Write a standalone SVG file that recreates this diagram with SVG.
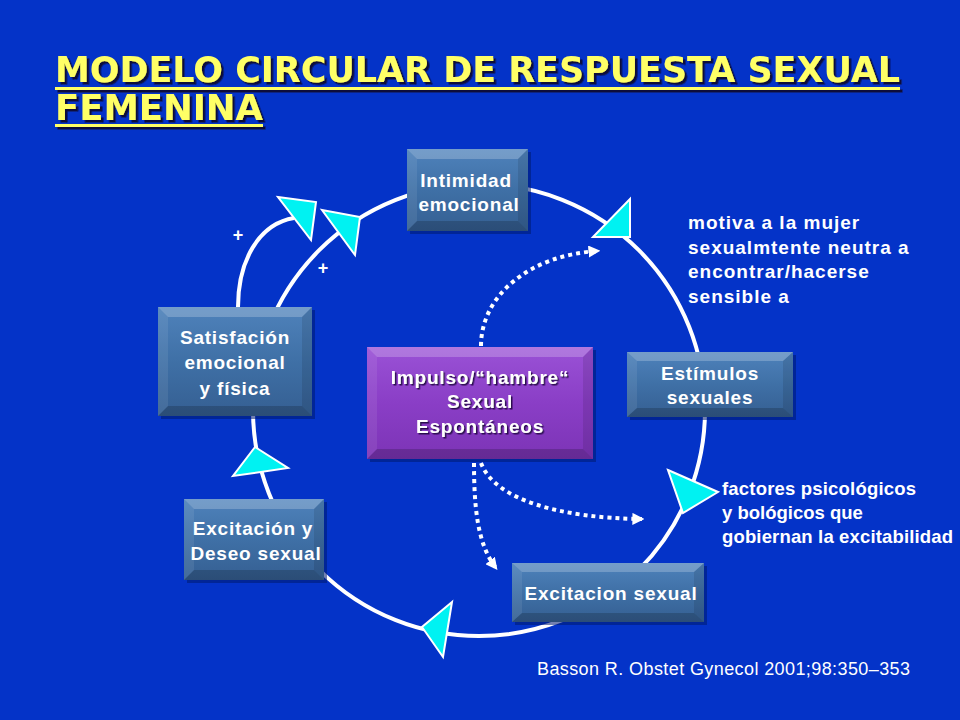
<svg xmlns="http://www.w3.org/2000/svg" width="960" height="720" viewBox="0 0 960 720">
<defs>
<linearGradient id="gBlue" x1="0" y1="0" x2="0" y2="1">
<stop offset="0" stop-color="#4f82bb"/>
<stop offset="0.5" stop-color="#3f70a6"/>
<stop offset="1" stop-color="#355f92"/>
</linearGradient>
<linearGradient id="gPurple" x1="0" y1="0" x2="0" y2="1">
<stop offset="0" stop-color="#9a52d6"/>
<stop offset="0.5" stop-color="#8a3ec6"/>
<stop offset="1" stop-color="#7c34b6"/>
</linearGradient>
<filter id="tsh" x="-5%" y="-20%" width="110%" height="150%">
<feDropShadow dx="2.5" dy="2.5" stdDeviation="0.4" flood-color="#10103a" flood-opacity="1"/>
</filter>
<filter id="psh" x="-5%" y="-20%" width="110%" height="150%">
<feDropShadow dx="1.5" dy="1.5" stdDeviation="0.5" flood-color="#2a0a50" flood-opacity="1"/>
</filter>
<marker id="ah" viewBox="0 0 10 10" refX="8" refY="5" markerWidth="3" markerHeight="3" orient="auto" markerUnits="strokeWidth">
<path d="M0,0 L10,5 L0,10 Z" fill="#ffffff"/>
</marker>
</defs>
<style>
.bg{fill:#0433c8}
.ring{fill:none;stroke:#ffffff;stroke-width:4}
.tri{fill:#00f2f2;stroke:#ffffff;stroke-width:2;stroke-linejoin:miter}
.dot{fill:none;stroke:#ffffff;stroke-width:4;stroke-dasharray:4 4}
.sh{fill:#001a70;opacity:0.55}
.bx{fill:url(#gBlue)}
.px{fill:url(#gPurple)}
.bvT{fill:#ffffff;opacity:0.22}
.bvB{fill:#000000;opacity:0.18}
.bvL{fill:#ffffff;opacity:0.08}
.bvR{fill:#000000;opacity:0.1}
.lbl{font-family:"Liberation Sans",Arial,sans-serif;font-weight:bold;font-size:19px;fill:#ffffff;text-anchor:middle;letter-spacing:0.8px}
.note{font-family:"Liberation Sans",Arial,sans-serif;font-weight:bold;font-size:19px;fill:#ffffff;letter-spacing:1px}
.note2{font-family:"Liberation Sans",Arial,sans-serif;font-weight:bold;font-size:18.5px;fill:#ffffff}
.plus{font-family:"Liberation Sans",Arial,sans-serif;font-weight:bold;font-size:18px;fill:#ffffff;text-anchor:middle}
.cite{font-family:"Liberation Sans",Arial,sans-serif;font-size:18px;fill:#ffffff}
.ttl{font-family:"DejaVu Sans",Verdana,sans-serif;font-weight:bold;font-size:35px;fill:#ffff66}
</style>
<rect class="bg" x="0" y="0" width="960" height="720"/>

<g id="title" filter="url(#tsh)">
<text class="ttl" x="55" y="82" textLength="845" lengthAdjust="spacingAndGlyphs">MODELO CIRCULAR DE RESPUESTA SEXUAL</text>
<rect x="55" y="87" width="845" height="3" fill="#ffff66"/>
<text class="ttl" x="55" y="120" textLength="208" lengthAdjust="spacingAndGlyphs">FEMENINA</text>
<rect x="55" y="124" width="208" height="3" fill="#ffff66"/>
</g>

<g id="connectors">
<circle class="ring" cx="479" cy="410" r="226"/>
<path class="ring" d="M238,307 C238,262 258,224 294,218"/>
<polygon class="tri" points="278,197 316,202 311,240"/>
<polygon class="tri" points="322,210 360,217 355,255"/>
<polygon class="tri" points="593,237 630,199 630,237"/>
<polygon class="tri" points="255,447 233,476 288,468"/>
<polygon class="tri" points="668,470 718,492 683,513"/>
<polygon class="tri" points="452,602 422,627 443,657"/>
<path class="dot" d="M481,346 C481,295 530,255 598,251" marker-end="url(#ah)"/>
<path class="dot" d="M481,463 C495,500 560,518 642,519" marker-end="url(#ah)"/>
<path class="dot" d="M474,463 C474,510 478,545 496,568" marker-end="url(#ah)"/>
</g>

<g id="intimidad">
<rect class="sh" x="410" y="152" width="121" height="82"/>
<rect class="bx" x="407" y="149" width="121" height="82"/>
<polygon class="bvT" points="407,149 528,149 518,159 417,159"/>
<polygon class="bvB" points="407,231 528,231 518,221 417,221"/>
<polygon class="bvL" points="407,149 417,159 417,221 407,231"/>
<polygon class="bvR" points="528,149 518,159 518,221 528,231"/>
<text class="lbl" x="466" y="187">Intimidad</text>
<text class="lbl" x="469" y="211">emocional</text>
</g>

<g id="satisfacion">
<rect class="sh" x="161" y="310" width="154" height="109"/>
<rect class="bx" x="158" y="307" width="154" height="109"/>
<polygon class="bvT" points="158,307 312,307 302,317 168,317"/>
<polygon class="bvB" points="158,416 312,416 302,406 168,406"/>
<polygon class="bvL" points="158,307 168,317 168,406 158,416"/>
<polygon class="bvR" points="312,307 302,317 302,406 312,416"/>
<text class="lbl" x="235" y="344">Satisfación</text>
<text class="lbl" x="235" y="369">emocional</text>
<text class="lbl" x="235" y="395">y física</text>
</g>

<g id="impulso">
<rect class="sh" x="370" y="350" width="226" height="112"/>
<rect class="px" x="367" y="347" width="226" height="112"/>
<polygon class="bvT" points="367,347 593,347 583,357 377,357"/>
<polygon class="bvB" points="367,459 593,459 583,449 377,449"/>
<polygon class="bvL" points="367,347 377,357 377,449 367,459"/>
<polygon class="bvR" points="593,347 583,357 583,449 593,459"/>
<g filter="url(#psh)">
<text class="lbl" x="480" y="384">Impulso/“hambre“</text>
<text class="lbl" x="480" y="408">Sexual</text>
<text class="lbl" x="480" y="433">Espontáneos</text>
</g>
</g>

<g id="estimulos">
<rect class="sh" x="630" y="355" width="166" height="65"/>
<rect class="bx" x="627" y="352" width="166" height="65"/>
<polygon class="bvT" points="627,352 793,352 783,361 637,361"/>
<polygon class="bvB" points="627,417 793,417 783,408 637,408"/>
<polygon class="bvL" points="627,352 637,361 637,408 627,417"/>
<polygon class="bvR" points="793,352 783,361 783,408 793,417"/>
<text class="lbl" x="710" y="380">Estímulos</text>
<text class="lbl" x="710" y="404">sexuales</text>
</g>

<g id="excitacion-deseo">
<rect class="sh" x="187" y="502" width="140" height="81"/>
<rect class="bx" x="184" y="499" width="140" height="81"/>
<polygon class="bvT" points="184,499 324,499 314,509 194,509"/>
<polygon class="bvB" points="184,580 324,580 314,570 194,570"/>
<polygon class="bvL" points="184,499 194,509 194,570 184,580"/>
<polygon class="bvR" points="324,499 314,509 314,570 324,580"/>
<text class="lbl" x="253" y="535">Excitación y</text>
<text class="lbl" x="256" y="560">Deseo sexual</text>
</g>

<g id="excitacion-sexual">
<rect class="sh" x="515" y="566" width="192" height="59"/>
<rect class="bx" x="512" y="563" width="192" height="59"/>
<polygon class="bvT" points="512,563 704,563 694,572 522,572"/>
<polygon class="bvB" points="512,622 704,622 694,613 522,613"/>
<polygon class="bvL" points="512,563 522,572 522,613 512,622"/>
<polygon class="bvR" points="704,563 694,572 694,613 704,622"/>
<text class="lbl" x="611" y="600">Excitacion sexual</text>
</g>

<g id="labels">
<text class="plus" x="238" y="241">+</text>
<text class="plus" x="323" y="274">+</text>
<text class="note" x="688" y="229">motiva a la mujer</text>
<text class="note" x="688" y="253.5">sexualmtente neutra a</text>
<text class="note" x="688" y="278">encontrar/hacerse</text>
<text class="note" x="688" y="302.5">sensible a</text>
<text class="note2" x="722" y="495" textLength="194" lengthAdjust="spacing">factores psicológicos</text>
<text class="note2" x="722" y="519">y bológicos que</text>
<text class="note2" x="722" y="543" textLength="231" lengthAdjust="spacing">gobiernan la excitabilidad</text>
<text class="cite" x="537" y="675" textLength="373" lengthAdjust="spacing">Basson R. Obstet Gynecol 2001;98:350–353</text>
</g>
</svg>
